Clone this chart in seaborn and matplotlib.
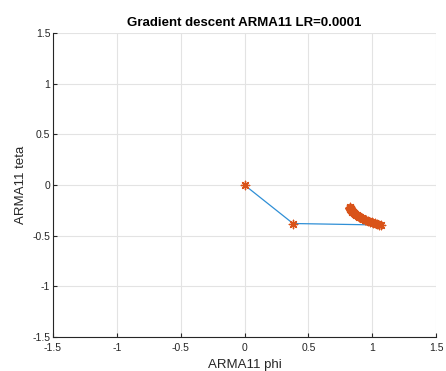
import numpy as np
import pandas as pd
import matplotlib
matplotlib.use("Agg")
import matplotlib.pyplot as plt
import seaborn as sns

title = "Gradient descent ARMA11 LR=0.0001"
xlabel = "ARMA11 phi"
ylabel = "ARMA11 teta"
ticks = [-1.5, -1, -0.5, 0, 0.5, 1, 1.5]
tick_labels = ["-1.5", "-1", "-0.5", "0", "0.5", "1", "1.5"]

phi = [0.0, 0.38, 1.07, 1.055, 1.04, 1.025, 1.01, 0.995, 0.98, 0.965, 0.952,
       0.94, 0.928, 0.917, 0.906, 0.896, 0.887, 0.879, 0.872, 0.865, 0.859,
       0.854, 0.849, 0.845, 0.842, 0.839, 0.837, 0.835, 0.833, 0.832, 0.831,
       0.830, 0.830, 0.829, 0.829, 0.829, 0.829, 0.830]
teta = [0.0, -0.38, -0.395, -0.39, -0.385, -0.379, -0.373, -0.367, -0.361,
        -0.354, -0.347, -0.341, -0.334, -0.327, -0.320, -0.313, -0.306,
        -0.299, -0.293, -0.287, -0.281, -0.275, -0.270, -0.265, -0.260,
        -0.255, -0.251, -0.247, -0.243, -0.240, -0.237, -0.234, -0.231,
        -0.229, -0.227, -0.225, -0.223, -0.221]

df = pd.DataFrame({"phi": phi, "teta": teta})

sns.set_style("white")
plt.rcParams["font.family"] = ["Liberation Sans", "DejaVu Sans"]

fig = plt.figure(figsize=(4.46, 3.71), dpi=100)
ax = fig.add_axes([53/446, 1-337/371, (436-53)/446, (337-33)/371])

sns.lineplot(data=df, x="phi", y="teta", sort=False, ax=ax,
             color="#2f8fd6", linewidth=0.9, estimator=None)
sns.scatterplot(data=df, x="phi", y="teta", ax=ax, marker=(8, 2, 0),
                color="#D95319", edgecolor="#D95319", s=36, linewidth=1.0,
                zorder=3)

ax.set_xlim(-1.5, 1.5)
ax.set_ylim(-1.5, 1.5)
ax.set_xticks(ticks)
ax.set_xticklabels(tick_labels)
ax.set_yticks(ticks)
ax.set_yticklabels(tick_labels)
ax.grid(True, color="#e3e3e3", linewidth=0.8)
ax.set_axisbelow(True)
for s in ["top", "right"]:
    ax.spines[s].set_visible(False)
for s in ["left", "bottom"]:
    ax.spines[s].set_color("#262626")
    ax.spines[s].set_linewidth(0.8)
ax.tick_params(direction="in", length=3, width=0.8, colors="#262626",
               labelsize=7.5, bottom=True, left=True)
ax.tick_params(axis="x", pad=4.5)
ax.tick_params(axis="y", pad=2)
ax.set_xlabel(xlabel, fontsize=9.5, color="#262626", labelpad=4)
ax.set_ylabel(ylabel, fontsize=9.5, color="#262626", labelpad=4)
ax.set_title(title, fontsize=9.5, fontweight="bold", color="black", pad=5)

fig.savefig("out.png", dpi=100)
